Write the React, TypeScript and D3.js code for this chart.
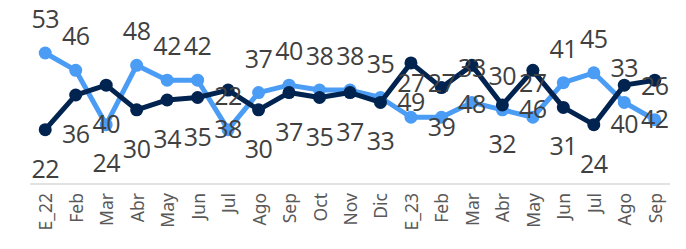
import { useEffect, useRef } from 'react';
import * as d3 from 'd3';

const months = ['E_22', 'Feb', 'Mar', 'Abr', 'May', 'Jun', 'Jul', 'Ago', 'Sep', 'Oct', 'Nov', 'Dic',
  'E_23', 'Feb', 'Mar', 'Abr', 'May', 'Jun', 'Jul', 'Ago', 'Sep'];
const lightSeries = [53, 46, 24, 48, 42, 42, 22, 37, 40, 38, 38, 35, 27, 27, 33, 30, 27, 41, 45, 33, 26];
const darkSeries = [22, 36, 40, 30, 34, 35, 38, 30, 37, 35, 37, 33, 49, 39, 48, 32, 46, 31, 24, 40, 42];
// points where the light series label sits under its marker
const lightLabelBelow = [2];

const W = 686;
const H = 249;

export default function App() {
  const svgRef = useRef<SVGSVGElement | null>(null);

  useEffect(() => {
    if (!svgRef.current) return;
    const svg = d3.select(svgRef.current);
    svg.selectAll('*').remove();

    const x = d3.scalePoint<number>()
      .domain(months.map((_, i) => i))
      .range([30, 670])
      .padding(0.5);

    const y = d3.scaleLinear().domain([0, 70]).range([184, 11]);

    // baseline
    svg.append('line')
      .attr('x1', 30).attr('x2', 670)
      .attr('y1', y(0)).attr('y2', y(0))
      .attr('stroke', '#d9d9d9')
      .attr('stroke-width', 1.5);

    // x labels
    svg.append('g')
      .selectAll('text')
      .data(months)
      .join('text')
      .attr('transform', (_, i) => `translate(${x(i)},193) rotate(-90)`)
      .attr('text-anchor', 'end')
      .attr('dominant-baseline', 'central')
      .attr('font-family', '"Noto Sans", sans-serif')
      .attr('font-size', 17.5)
      .attr('fill', '#595959')
      .text(d => d);

    const line = d3.line<number>()
      .x((_, i) => x(i) as number)
      .y(d => y(d));

    const series = [
      { values: lightSeries, color: '#4b9cf5' },
      { values: darkSeries, color: '#00234f' },
    ];

    series.forEach(s => {
      svg.append('path')
        .datum(s.values)
        .attr('d', line)
        .attr('fill', 'none')
        .attr('stroke', s.color)
        .attr('stroke-width', 5)
        .attr('stroke-linejoin', 'round');

      svg.append('g')
        .selectAll('circle')
        .data(s.values)
        .join('circle')
        .attr('cx', (_, i) => x(i) as number)
        .attr('cy', d => y(d))
        .attr('r', 6.5)
        .attr('fill', s.color);
    });

    // data labels
    const labelFont = '"Open Sans", sans-serif';
    svg.append('g')
      .selectAll('text')
      .data(lightSeries)
      .join('text')
      .attr('x', (_, i) => x(i) as number)
      .attr('y', (d, i) => lightLabelBelow.includes(i) ? y(d) + 37 : y(d) - 35)
      .attr('text-anchor', 'middle')
      .attr('dominant-baseline', 'central')
      .attr('font-family', labelFont)
      .attr('font-size', 25)
      .attr('letter-spacing', -0.5)
      .attr('fill', '#404040')
      .text(d => d);

    svg.append('g')
      .selectAll('text')
      .data(darkSeries)
      .join('text')
      .attr('x', (_, i) => x(i) as number)
      .attr('y', d => y(d) + 38)
      .attr('text-anchor', 'middle')
      .attr('dominant-baseline', 'central')
      .attr('font-family', labelFont)
      .attr('font-size', 25)
      .attr('letter-spacing', -0.5)
      .attr('fill', '#404040')
      .text(d => d);
  }, []);

  return (
    <svg
      ref={svgRef}
      width={W}
      height={H}
      style={{ position: 'absolute', left: 0, top: 0, background: '#fff' }}
    />
  );
}
